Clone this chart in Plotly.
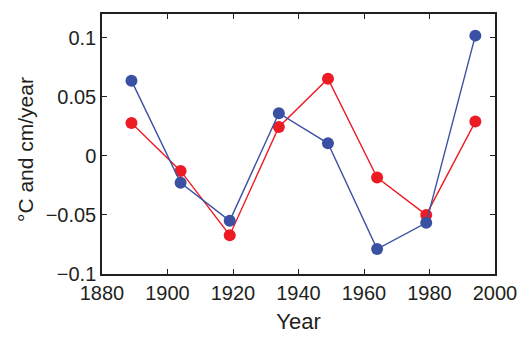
import plotly.graph_objects as go

years = [1889, 1904, 1919, 1934, 1949, 1964, 1979, 1994]
blue_vals = [0.0636, -0.0228, -0.055, 0.0361, 0.0106, -0.0789, -0.0567, 0.1017]
red_vals = [0.0278, -0.0128, -0.0672, 0.0244, 0.0653, -0.0183, -0.050, 0.029]

x_ticks = [1880, 1900, 1920, 1940, 1960, 1980, 2000]
y_ticks = [-0.1, -0.05, 0, 0.05, 0.1]
y_ticktext = ["\u22120.1", "\u22120.05", "0", "0.05", "0.1"]

BLUE = "#3a51a3"
RED = "#ed1c24"

fig = go.Figure()
fig.add_trace(go.Scatter(x=years, y=red_vals, mode="lines+markers",
                         line=dict(color=RED, width=1.4),
                         marker=dict(color=RED, size=12)))
fig.add_trace(go.Scatter(x=years, y=blue_vals, mode="lines+markers",
                         line=dict(color=BLUE, width=1.4),
                         marker=dict(color=BLUE, size=12)))

font = "Liberation Sans, Arial, sans-serif"
fig.update_layout(
    width=529, height=342,
    margin=dict(l=101.5, r=33, t=12.5, b=66),
    paper_bgcolor="white", plot_bgcolor="white",
    showlegend=False,
    font=dict(family=font, size=20, color="#231f20"),
    xaxis=dict(range=[1880, 2000], tickvals=x_ticks, ticks="inside", ticklen=5,
               tickcolor="#231f20", showline=True, linecolor="#231f20", linewidth=1.5,
               mirror="ticks", showgrid=False, zeroline=False,
               title=dict(text="Year", font=dict(size=22), standoff=11)),
    yaxis=dict(range=[-0.1, 0.12], tickvals=y_ticks, ticktext=y_ticktext,
               ticks="inside", ticklen=5, tickcolor="#231f20",
               showline=True, linecolor="#231f20", linewidth=1.5,
               mirror="ticks", showgrid=False, zeroline=False),
    annotations=[dict(text="\u00b0C and cm/year", xref="paper", yref="paper",
                      x=-0.1965, y=0.48, xanchor="center", yanchor="middle",
                      textangle=-90, showarrow=False, font=dict(size=21))],
)

fig.write_html("out.html")
